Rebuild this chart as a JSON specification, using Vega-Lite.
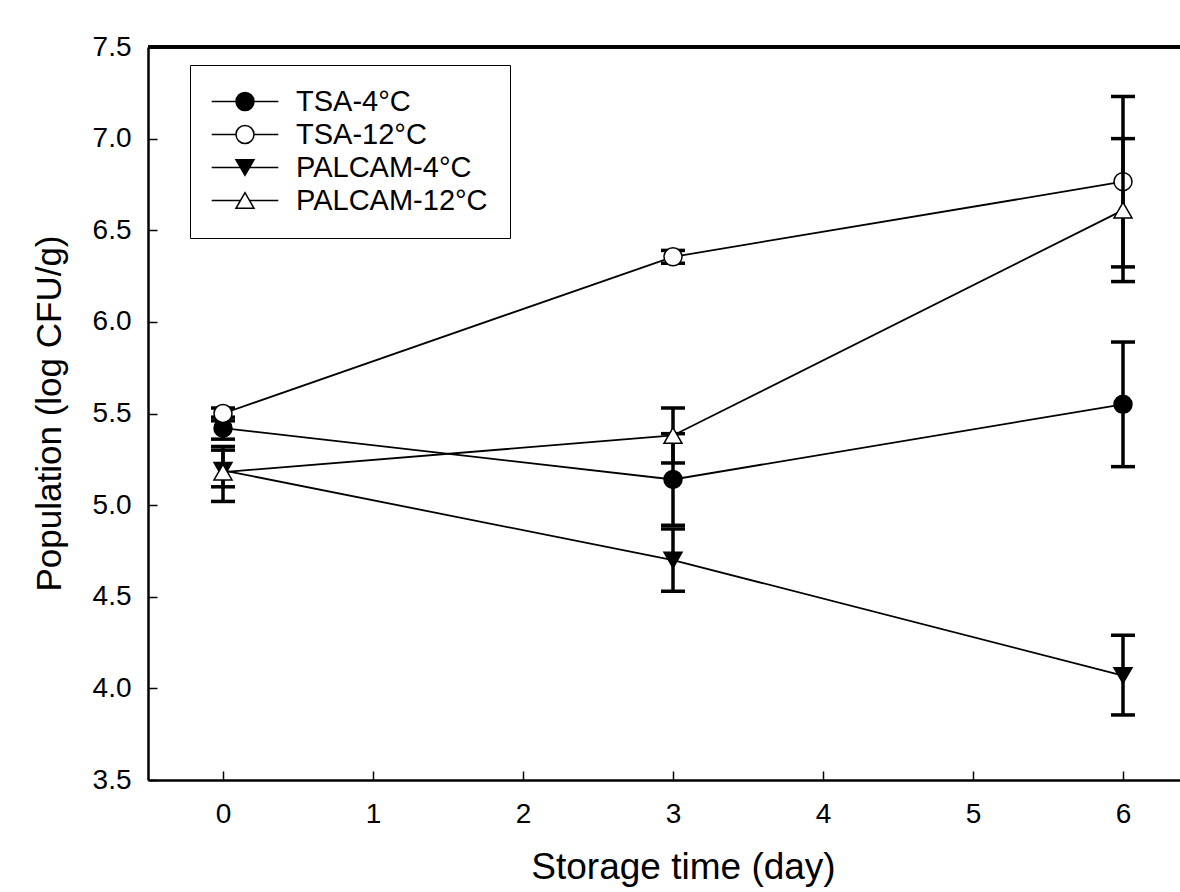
{
  "$schema": "https://vega.github.io/schema/vega-lite/v6.json",
  "width": 1032,
  "height": 733,
  "autosize": {"type": "none"},
  "padding": {"left": 148, "top": 47, "right": 0, "bottom": 112},
  "background": "white",
  "config": {
    "view": {"stroke": null},
    "font": "Liberation Sans",
    "axis": {"grid": false, "domainColor": "black", "tickColor": "black", "labelColor": "black", "titleColor": "black", "labelFont": "Liberation Sans", "titleFont": "Liberation Sans", "titleFontWeight": "normal"}
  },
  "datasets": {
    "pts": [
      {"series": "TSA-4°C", "grp": "TSA", "day": 0, "mean": 5.42, "lo": 5.36, "hi": 5.48},
      {"series": "TSA-4°C", "grp": "TSA", "day": 3, "mean": 5.14, "lo": 4.89, "hi": 5.39},
      {"series": "TSA-4°C", "grp": "TSA", "day": 6, "mean": 5.55, "lo": 5.21, "hi": 5.89},
      {"series": "TSA-12°C", "grp": "TSA", "day": 0, "mean": 5.50, "lo": 5.46, "hi": 5.53},
      {"series": "TSA-12°C", "grp": "TSA", "day": 3, "mean": 6.355, "lo": 6.32, "hi": 6.39},
      {"series": "TSA-12°C", "grp": "TSA", "day": 6, "mean": 6.765, "lo": 6.30, "hi": 7.23},
      {"series": "PALCAM-4°C", "grp": "PALCAM", "day": 0, "mean": 5.19, "lo": 5.10, "hi": 5.30},
      {"series": "PALCAM-4°C", "grp": "PALCAM", "day": 3, "mean": 4.70, "lo": 4.53, "hi": 4.87},
      {"series": "PALCAM-4°C", "grp": "PALCAM", "day": 6, "mean": 4.07, "lo": 3.855, "hi": 4.29},
      {"series": "PALCAM-12°C", "grp": "PALCAM", "day": 0, "mean": 5.18, "lo": 5.02, "hi": 5.32},
      {"series": "PALCAM-12°C", "grp": "PALCAM", "day": 3, "mean": 5.38, "lo": 5.23, "hi": 5.53},
      {"series": "PALCAM-12°C", "grp": "PALCAM", "day": 6, "mean": 6.61, "lo": 6.22, "hi": 7.00}
    ]
  },
  "data": {"name": "pts"},
  "layer": [
    {
      "mark": {"type": "line", "color": "black", "strokeWidth": 1.8},
      "encoding": {
        "x": {"field": "day", "type": "quantitative", "scale": {"domain": [-0.5, 6.38], "nice": false, "zero": false},
          "axis": {"values": [0, 1, 2, 3, 4, 5, 6], "format": "d", "labelFontSize": 28, "tickSize": -9, "tickWidth": 1.5, "domainWidth": 2.5, "labelPadding": 29, "labelBaseline": "top",
            "title": "Storage time (day)", "titleFontSize": 37, "titleBaseline": "alphabetic", "titleY": 98, "titleX": 535, "titleAlign": "center"}},
        "y": {"field": "mean", "type": "quantitative", "scale": {"domain": [3.5, 7.5], "nice": false, "zero": false},
          "axis": {"values": [3.5, 4, 4.5, 5, 5.5, 6, 6.5, 7, 7.5], "format": ".1f", "labelFontSize": 28, "tickSize": -9, "tickWidth": 1.5, "domainWidth": 2.5, "labelPadding": 26,
            "title": "Population (log CFU/g)", "titleFontSize": 35, "titleBaseline": "alphabetic", "titleAngle": -90, "titleX": -88, "titleY": 366, "titleAlign": "center"}},
        "detail": {"field": "series"}
      }
    },
    {
      "mark": {"type": "rule", "color": "black", "strokeWidth": 2.5},
      "encoding": {"y": {"datum": 7.5}}
    },
    {
      "transform": [{"filter": "datum.grp == 'TSA'"}],
      "mark": {"type": "rule", "color": "black", "strokeWidth": 3.5},
      "encoding": {"x": {"field": "day", "type": "quantitative"}, "y": {"field": "lo", "type": "quantitative"}, "y2": {"field": "hi"}}
    },
    {
      "transform": [{"filter": "datum.grp == 'TSA'"}],
      "mark": {"type": "tick", "orient": "horizontal", "color": "black", "size": 24, "thickness": 3.5, "opacity": 1},
      "encoding": {"x": {"field": "day", "type": "quantitative"}, "y": {"field": "lo", "type": "quantitative"}}
    },
    {
      "transform": [{"filter": "datum.grp == 'TSA'"}],
      "mark": {"type": "tick", "orient": "horizontal", "color": "black", "size": 24, "thickness": 3.5, "opacity": 1},
      "encoding": {"x": {"field": "day", "type": "quantitative"}, "y": {"field": "hi", "type": "quantitative"}}
    },
    {
      "transform": [{"filter": "datum.grp == 'TSA'"}],
      "mark": {"type": "point", "filled": true, "opacity": 1, "stroke": "black", "strokeWidth": 1.5, "size": 324},
      "encoding": {
        "x": {"field": "day", "type": "quantitative"},
        "y": {"field": "mean", "type": "quantitative"},
        "shape": {"field": "series", "type": "nominal", "scale": {"domain": ["TSA-4°C", "TSA-12°C", "PALCAM-4°C", "PALCAM-12°C"], "range": ["circle", "circle", "triangle-down", "triangle-up"]}, "legend": null},
        "fill": {"field": "series", "type": "nominal", "scale": {"domain": ["TSA-4°C", "TSA-12°C", "PALCAM-4°C", "PALCAM-12°C"], "range": ["black", "white", "black", "white"]}, "legend": null}
      }
    },
    {
      "transform": [{"filter": "datum.grp == 'PALCAM'"}],
      "mark": {"type": "rule", "color": "black", "strokeWidth": 3.5},
      "encoding": {"x": {"field": "day", "type": "quantitative"}, "y": {"field": "lo", "type": "quantitative"}, "y2": {"field": "hi"}}
    },
    {
      "transform": [{"filter": "datum.grp == 'PALCAM'"}],
      "mark": {"type": "tick", "orient": "horizontal", "color": "black", "size": 24, "thickness": 3.5, "opacity": 1},
      "encoding": {"x": {"field": "day", "type": "quantitative"}, "y": {"field": "lo", "type": "quantitative"}}
    },
    {
      "transform": [{"filter": "datum.grp == 'PALCAM'"}],
      "mark": {"type": "tick", "orient": "horizontal", "color": "black", "size": 24, "thickness": 3.5, "opacity": 1},
      "encoding": {"x": {"field": "day", "type": "quantitative"}, "y": {"field": "hi", "type": "quantitative"}}
    },
    {
      "transform": [{"filter": "datum.grp == 'PALCAM'"}],
      "mark": {"type": "point", "filled": true, "opacity": 1, "stroke": "black", "strokeWidth": 1.5, "size": 324},
      "encoding": {
        "x": {"field": "day", "type": "quantitative"},
        "y": {"field": "mean", "type": "quantitative"},
        "shape": {"field": "series", "type": "nominal", "scale": {"domain": ["TSA-4°C", "TSA-12°C", "PALCAM-4°C", "PALCAM-12°C"], "range": ["circle", "circle", "triangle-down", "triangle-up"]}, "legend": null},
        "fill": {"field": "series", "type": "nominal", "scale": {"domain": ["TSA-4°C", "TSA-12°C", "PALCAM-4°C", "PALCAM-12°C"], "range": ["black", "white", "black", "white"]}, "legend": null}
      }
    },
    {
      "transform": [{"filter": "datum.day > 100"}],
      "mark": {"type": "point", "filled": true, "opacity": 1, "stroke": "black", "strokeWidth": 1.5, "size": 324},
      "encoding": {
        "x": {"field": "day", "type": "quantitative"},
        "y": {"field": "mean", "type": "quantitative"},
        "shape": {"field": "series", "type": "nominal",
          "scale": {"domain": ["TSA-4°C", "TSA-12°C", "PALCAM-4°C", "PALCAM-12°C"],
            "range": ["M-3.7,0H-1M1,0H3.7M-1,0A1,1,0,1,1,1,0A1,1,0,1,1,-1,0Z", "M-3.7,0H-1M1,0H3.7M-1,0A1,1,0,1,1,1,0A1,1,0,1,1,-1,0Z", "M-3.7,0H-0.5M0.5,0H3.7M0,0.866L-1,-0.866L1,-0.866Z", "M-3.7,0H-0.5M0.5,0H3.7M0,-0.866L-1,0.866L1,0.866Z"]},
          "legend": {"title": null, "orient": "none", "legendX": 42, "legendY": 18, "padding": 22, "strokeColor": "black", "symbolSize": 324, "symbolOffset": 18.5, "labelOffset": 36.5, "labelFontSize": 29, "labelFont": "Liberation Sans", "labelColor": "black", "rowPadding": 3, "labelLimit": 400,
            "encoding": {"symbols": {"update": {"stroke": {"value": "black"}, "strokeWidth": {"value": 1.5}}}, "legend": {"update": {"strokeWidth": {"value": 1.5}}}}}},
        "fill": {"field": "series", "type": "nominal",
          "scale": {"domain": ["TSA-4°C", "TSA-12°C", "PALCAM-4°C", "PALCAM-12°C"], "range": ["black", "white", "black", "white"]},
          "legend": {"title": null, "orient": "none", "legendX": 42, "legendY": 18, "padding": 22, "strokeColor": "black", "symbolSize": 324, "symbolOffset": 18.5, "labelOffset": 36.5, "labelFontSize": 29, "labelFont": "Liberation Sans", "labelColor": "black", "rowPadding": 3, "labelLimit": 400,
            "encoding": {"symbols": {"update": {"stroke": {"value": "black"}, "strokeWidth": {"value": 1.5}}}, "legend": {"update": {"strokeWidth": {"value": 1.5}}}}}}
      }
    }
  ],
  "resolve": {"scale": {"shape": "independent", "fill": "independent"}}
}
